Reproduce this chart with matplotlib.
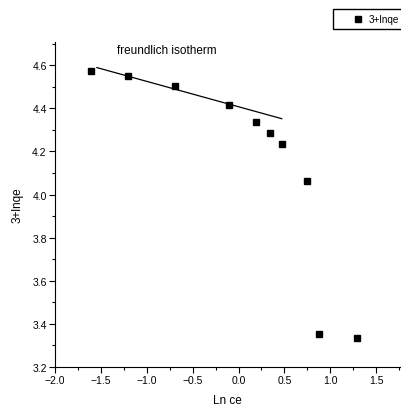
import matplotlib
matplotlib.use("Agg")
import matplotlib.pyplot as plt
import numpy as np
from matplotlib.ticker import MultipleLocator

plt.rcParams["font.family"] = ["Liberation Sans", "DejaVu Sans"]

# data
ln_ce = [-1.607, -1.200, -0.691, -0.103, 0.192, 0.341, 0.476, 0.745, 0.882, 1.286]
lnqe3 = [4.571, 4.549, 4.504, 4.413, 4.337, 4.285, 4.234, 4.065, 3.355, 3.335]

# linear fit drawn on the first points
fit_x = [-1.545, 0.471]
fit_slope = -0.1176
fit_intercept = 4.407

fig = plt.figure(figsize=(4.02, 4.14), dpi=100)
ax = fig.add_axes([0.137, 0.111, 0.858, 0.785])

ax.plot(ln_ce, lnqe3, "s", color="black", markersize=5, label="3+lnqe", linestyle="none")
fx = np.array(fit_x)
ax.plot(fx, fit_intercept + fit_slope * fx, color="black", linewidth=0.9)

ax.set_xlim(-2.0, 1.76)
ax.set_ylim(3.2, 4.707)
ax.xaxis.set_major_locator(MultipleLocator(0.5))
ax.xaxis.set_minor_locator(MultipleLocator(0.25))
ax.yaxis.set_major_locator(MultipleLocator(0.2))
ax.yaxis.set_minor_locator(MultipleLocator(0.1))
ax.tick_params(which="major", length=4, width=0.8, labelsize=7.5, direction="out", pad=2)
ax.tick_params(which="minor", length=2, width=0.8, direction="out")
ax.spines["top"].set_visible(False)
ax.spines["right"].set_visible(False)

ax.set_xlabel("Ln ce", fontsize=8.5, labelpad=6)
ax.set_ylabel("3+lnqe", fontsize=8.5, labelpad=6)
ax.text(-1.32, 4.67, "freundlich isotherm", fontsize=8.5, ha="left", va="center")

fig.legend(loc="upper left", bbox_to_anchor=(333 / 402, 1 - 10 / 414),
           fontsize=7.2, frameon=True, fancybox=False, edgecolor="black",
           framealpha=1, borderaxespad=0, borderpad=0.5, handletextpad=-0.9,
           handlelength=4.0)

plt.savefig("out.png", dpi=100)
plt.close()
